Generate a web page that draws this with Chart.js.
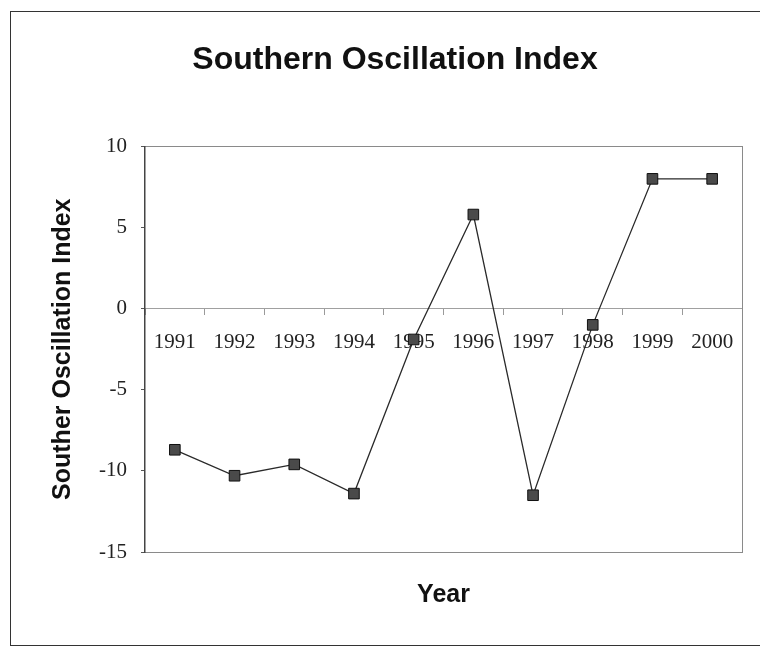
<!DOCTYPE html>
<html>
<head>
<meta charset="utf-8">
<script src="https://cdn.jsdelivr.net/npm/chart.js@4/dist/chart.umd.min.js"></script>
<style>
    html, body { margin: 0; padding: 0; background: #fff; overflow: hidden; }
    #frame {
        position: absolute; left: 10px; top: 11px;
        width: 768px; height: 633px;
        border: 1px solid #333;
    }
</style>
</head>
<body>
<div id="frame"><canvas id="soiChart"></canvas></div>
<script>
const years = ['1991', '1992', '1993', '1994', '1995', '1996', '1997', '1998', '1999', '2000'];
const soiValues = [-8.7, -10.3, -9.6, -11.4, -1.9, 5.8, -11.5, -1.0, 8.0, 8.0];
const yTicks = [10, 5, 0, -5, -10, -15];

const serif = "'Liberation Serif', 'Times New Roman', serif";
const sans = "'Liberation Sans', Arial, sans-serif";

// plain dashed edge for the plot box (top / right / bottom)
const edge = (extra) => Object.assign({
    display: true,
    ticks: { display: false },
    grid: { display: true, drawOnChartArea: false, drawTicks: false },
    border: { display: true, color: '#8a8a8a', width: 1, dash: [5, 3] }
}, extra);

new Chart(document.getElementById('soiChart'), {
    type: 'line',
    data: {
        labels: years,
        datasets: [{
            label: 'SOI',
            data: soiValues,
            borderColor: '#2a2a2a',
            borderWidth: 1.3,
            tension: 0,
            pointStyle: 'rect',
            pointRadius: 7.5,
            pointHoverRadius: 7.5,
            pointBackgroundColor: '#4a4a4a',
            pointBorderColor: '#111',
            pointBorderWidth: 1,
            xAxisID: 'x',
            yAxisID: 'y'
        }]
    },
    options: {
        responsive: true,
        maintainAspectRatio: false,
        animation: false,
        layout: { padding: { left: 37, right: 37, top: 0, bottom: 35 } },
        plugins: {
            legend: { display: false },
            tooltip: { enabled: false },
            title: {
                display: true,
                text: 'Southern Oscillation Index',
                color: '#111',
                font: { family: sans, size: 32, weight: 'bold', lineHeight: 1.2 },
                padding: { top: 29, bottom: 67 }
            }
        },
        scales: {
            x: {
                type: 'category',
                position: { y: 0 },
                offset: true,
                grid: { display: true, offset: true, drawOnChartArea: false, drawTicks: true, tickLength: 6, color: '#9a9a9a' },
                border: { display: true, color: '#a0a0a0', width: 1, dash: [6, 4] },
                ticks: { color: '#222', padding: 15, maxRotation: 0, autoSkip: false, font: { family: serif, size: 21 } }
            },
            xBottom: edge({
                type: 'category',
                position: 'bottom',
                title: {
                    display: true, text: 'Year', color: '#111',
                    font: { family: sans, size: 25, weight: 'bold', lineHeight: 1.2 },
                    padding: { top: 28, bottom: 0 }
                }
            }),
            xTop: edge({ type: 'category', position: 'top' }),
            yRight: edge({ type: 'linear', position: 'right', min: -15, max: 10 }),
            y: {
                type: 'linear',
                position: 'left',
                min: -15,
                max: 10,
                afterBuildTicks: (scale) => { scale.ticks = yTicks.map(v => ({ value: v })); },
                afterFit: (scale) => { scale.width = 97; },
                grid: { display: true, drawOnChartArea: false, drawTicks: true, tickLength: 4, color: '#555' },
                border: { display: true, color: '#444', width: 1.5 },
                ticks: { color: '#222', padding: 14, font: { family: serif, size: 21 } },
                title: {
                    display: true, text: 'Souther Oscillation Index', color: '#111',
                    font: { family: sans, size: 25, weight: 'bold', lineHeight: 1.2 },
                    padding: { top: 0, bottom: 0 }
                }
            }
        }
    }
});
</script>
</body>
</html>
